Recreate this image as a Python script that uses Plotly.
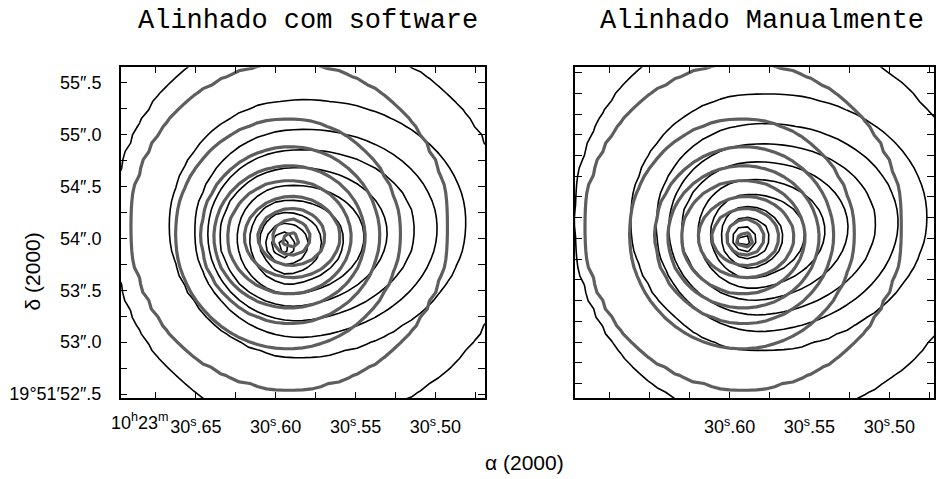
import numpy as np
import plotly.graph_objects as go

# Sky frame: RA seconds after 10h23m, Dec arcseconds after +19°51'
DEC0_DEG = 19.864
K = 15.0 * np.cos(np.radians(DEC0_DEG))      # arcsec of sky per second of RA

ra_range_left = [30.697, 30.469]
ra_range_right = [30.697, 30.472]
dec_range = [52.462, 55.652]

# Reference image contours (grey), outermost first:
# centre RA (s), centre Dec ("), semi-axes in arcsec (east, west, north, south)
gray_ra = [30.5914, 30.5926, 30.5908, 30.5914, 30.5917, 30.5895, 30.5901, 30.5901, 30.5908]
gray_dec = [54.119, 54.043, 54.033, 54.014, 54.014, 54.014, 54.014, 54.014, 53.985]
gray_ae = [1.393, 0.988, 0.785, 0.670, 0.547, 0.423, 0.300, 0.168, 0.071]
gray_aw = [1.393, 0.988, 0.785, 0.670, 0.547, 0.423, 0.300, 0.168, 0.071]
gray_bn = [1.562, 1.105, 0.848, 0.686, 0.552, 0.390, 0.276, 0.181, 0.071]
gray_bs = [1.562, 1.105, 0.848, 0.686, 0.552, 0.390, 0.276, 0.181, 0.071]
gray_rot = 0.0

# Aligned image contours (black), outermost first
black_ra = [30.5883, 30.5864, 30.5864, 30.5876, 30.5895, 30.5914, 30.5926, 30.5939, 30.5939,
            30.5951, 30.5958]
black_dec = [54.014, 54.100, 54.043, 54.033, 54.014, 53.985, 53.966, 53.957, 53.947,
             53.938, 53.928]
black_ae = [1.587, 1.120, 0.899, 0.776, 0.644, 0.459, 0.335, 0.212, 0.176, 0.097, 0.053]
black_aw = [1.896, 1.490, 1.235, 1.058, 0.838, 0.661, 0.503, 0.317, 0.212, 0.097, 0.053]
black_bn = [1.952, 1.229, 1.000, 0.819, 0.667, 0.524, 0.400, 0.295, 0.200, 0.124, 0.076]
black_bs = [1.829, 1.238, 1.000, 0.829, 0.667, 0.524, 0.410, 0.305, 0.200, 0.124, 0.076]
black_rot = 7.0

# Offset of the manually aligned image relative to the software solution
manual_shift_ra = -0.0044
manual_shift_dec = 0.057

# Tick positions and labels
left_xticks = [30.675, 30.650, 30.625, 30.600, 30.575, 30.550, 30.525, 30.500, 30.475]
left_xlabels = ["", "30<sup>s</sup>.65", "", "30<sup>s</sup>.60", "", "30<sup>s</sup>.55", "",
                "30<sup>s</sup>.50", ""]
right_xlabels = ["", "", "", "30<sup>s</sup>.60", "", "30<sup>s</sup>.55", "",
                 "30<sup>s</sup>.50", ""]
left_yticks = [52.50, 52.75, 53.00, 53.25, 53.50, 53.75, 54.00, 54.25, 54.50, 54.75,
               55.00, 55.25, 55.50]
left_ylabels = ["19°51′52″.5", "", "53″.0", "", "53″.5", "", "54″.0", "", "54″.5", "",
                "55″.0", "", "55″.5"]
right_yticks = [52.6, 52.8, 53.0, 53.2, 53.4, 53.6, 53.8, 54.0, 54.2, 54.4, 54.6, 54.8,
                55.0, 55.2, 55.4, 55.6]

# Image sampling grid (0.08" pixels)
PIX = 0.08
ra_grid = np.arange(30.43, 30.735, PIX / K)
dec_grid = np.arange(52.20, 55.95, PIX)
RA, DEC = np.meshgrid(ra_grid, dec_grid)


def level_map(ra0, dec0, ae, aw, bn, bs, rot_deg, dra=0.0, ddec=0.0):
    """Surface whose integer levels follow the listed contour outlines."""
    th = np.radians(rot_deg)
    g = []
    for i in range(len(ra0)):
        X = (ra0[i] + dra - RA) * K
        Y = DEC - (dec0[i] + ddec)
        Xr = X * np.cos(th) + Y * np.sin(th)
        Yr = -X * np.sin(th) + Y * np.cos(th)
        a = np.where(Xr > 0, aw[i], ae[i])
        b = np.where(Yr > 0, bn[i], bs[i])
        g.append(np.log(np.hypot(Xr / a, Yr / b) + 1e-9))
    g = np.array(g)
    n = len(ra0)
    k = (g <= 0).sum(axis=0)
    val = np.empty(k.shape)
    out = k == 0
    core = k == n
    mid = ~(out | core)
    val[out] = -g[0][out]
    val[core] = (n - 1) - g[n - 1][core]
    km = np.clip(k, 1, n - 1)
    gi = np.take_along_axis(g, (km - 1)[None], axis=0)[0]
    gk = np.take_along_axis(g, km[None], axis=0)[0]
    interp = (km - 1) + (-gi) / (gk - gi + 1e-12)
    val[mid] = interp[mid]
    return val, n


gray_z, n_gray = level_map(gray_ra, gray_dec, gray_ae, gray_aw, gray_bn, gray_bs, gray_rot)
black_z_sw, n_black = level_map(black_ra, black_dec, black_ae, black_aw, black_bn, black_bs,
                                black_rot)
black_z_man, _ = level_map(black_ra, black_dec, black_ae, black_aw, black_bn, black_bs,
                           black_rot, manual_shift_ra, manual_shift_dec)

GRAY = "#5e5e5e"


def contour_trace(z, n, color, width, xa, ya):
    return go.Contour(
        x=ra_grid, y=dec_grid, z=z, xaxis=xa, yaxis=ya,
        contours=dict(coloring="lines", start=0, end=n - 1, size=1),
        colorscale=[[0, color], [1, color]],
        line=dict(width=width, smoothing=0),
        showscale=False, hoverinfo="skip",
    )


fig = go.Figure()
fig.add_trace(contour_trace(black_z_sw, n_black, "black", 1.6, "x", "y"))
fig.add_trace(contour_trace(gray_z, n_gray, GRAY, 3.2, "x", "y"))
fig.add_trace(contour_trace(black_z_man, n_black, "black", 1.6, "x2", "y2"))
fig.add_trace(contour_trace(gray_z, n_gray, GRAY, 3.2, "x2", "y2"))

W, H = 936, 479
TICKFONT = dict(family="Liberation Sans", size=18, color="black")
ydom = [1 - 403 / H, 1 - 68 / H]

axis_common = dict(
    showgrid=False, zeroline=False, showline=True, linecolor="black", linewidth=1.5,
    mirror="ticks", ticks="inside", tickcolor="black", tickwidth=1, tickfont=TICKFONT,
)

fig.update_layout(
    width=W, height=H,
    margin=dict(l=0, r=0, t=0, b=0),
    paper_bgcolor="white", plot_bgcolor="white",
    showlegend=False,
    xaxis=dict(axis_common, domain=[121 / W, 486 / W], range=ra_range_left,
               tickmode="array", tickvals=left_xticks, ticktext=left_xlabels,
               ticklen=6, ticklabelstandoff=12, anchor="y"),
    yaxis=dict(axis_common, domain=ydom, range=dec_range,
               tickmode="array", tickvals=left_yticks, ticktext=left_ylabels,
               ticklen=7, ticklabelstandoff=14, anchor="x"),
    xaxis2=dict(axis_common, domain=[576 / W, 1.0], range=ra_range_right,
                tickmode="array", tickvals=left_xticks, ticktext=right_xlabels,
                ticklen=6, ticklabelstandoff=12, anchor="y2"),
    yaxis2=dict(axis_common, domain=ydom, range=dec_range,
                tickmode="array", tickvals=right_yticks,
                ticktext=[""] * len(right_yticks),
                ticklen=7, anchor="x2"),
)

TITLEFONT = dict(family="Liberation Mono", size=27, color="black")
LABELFONT = dict(family="Liberation Sans", size=21, color="black")

fig.add_annotation(text="Alinhado com software", x=309 / W, y=1 - 21 / H,
                   xref="paper", yref="paper", showarrow=False, font=TITLEFONT,
                   xanchor="center", yanchor="middle")
fig.add_annotation(text="Alinhado Manualmente", x=764 / W, y=1 - 21 / H,
                   xref="paper", yref="paper", showarrow=False, font=TITLEFONT,
                   xanchor="center", yanchor="middle")
fig.add_annotation(text="α (2000)", x=526 / W, y=1 - 468 / H,
                   xref="paper", yref="paper", showarrow=False, font=LABELFONT,
                   xanchor="center", yanchor="middle")
fig.add_annotation(text="δ (2000)", x=33 / W, y=1 - 275 / H, textangle=-90,
                   xref="paper", yref="paper", showarrow=False, font=LABELFONT,
                   xanchor="center", yanchor="middle")
# hours and minutes prefix of the first RA label
fig.add_annotation(text="10<sup>h</sup>23<sup>m</sup>", x=30.65, xref="x",
                   y=1 - 427 / H, yref="paper", xshift=-25, showarrow=False,
                   font=TICKFONT, xanchor="right", yanchor="middle")

fig.write_html("out.html")
